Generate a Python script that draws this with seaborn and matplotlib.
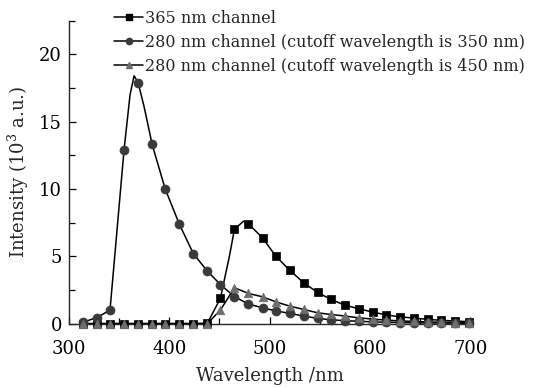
import numpy as np
import pandas as pd
import matplotlib
matplotlib.use("Agg")
import matplotlib.pyplot as plt
from matplotlib.lines import Line2D
from matplotlib.ticker import MultipleLocator
import seaborn as sns

# marker wavelengths (nm)
wl = [314, 328, 341, 355, 369, 383, 396, 410, 424, 438, 451, 465, 479, 493, 506,
      520, 534, 548, 561, 575, 589, 603, 616, 630, 644, 658, 671, 685, 699]

# intensities (10^3 a.u.)
ch365 = [0, 0, 0, 0, 0, 0, 0, 0, 0, 0.02, 1.87, 7.0, 7.4, 6.37, 5.03,
         3.97, 3.03, 2.31, 1.80, 1.37, 1.10, 0.85, 0.65, 0.50, 0.41, 0.31, 0.24, 0.19, 0.14]
ch280_350 = [0.1, 0.45, 1.0, 12.9, 17.9, 13.3, 10.0, 7.4, 5.2, 3.9, 2.9, 2.0, 1.45, 1.17, 0.95,
             0.76, 0.56, 0.39, 0.28, 0.22, 0.17, 0.13, 0.10, 0.08, 0.06, 0.05, 0.04, 0.03, 0.02]
ch280_450 = [0, 0, 0, 0, 0, 0, 0, 0, 0, 0, 1.0, 2.66, 2.24, 1.99, 1.62,
             1.30, 1.05, 0.80, 0.68, 0.56, 0.43, 0.33, 0.26, 0.20, 0.16, 0.12, 0.10, 0.08, 0.06]

# extra points on the smooth curves (around the peaks)
peak365_x, peak365_y = [460, 474], [5.0, 7.6]
peak350_x, peak350_y = [361, 365, 375], [17.0, 18.4, 16.1]

labels = ["365 nm channel",
          "280 nm channel (cutoff wavelength is 350 nm)",
          "280 nm channel (cutoff wavelength is 450 nm)"]
colors = ["#000000", "#3a3a3a", "#6e6e6e"]
markers = ["s", "o", "^"]
sizes = [28, 42, 38]

sns.set_style("ticks")
plt.rcParams["font.family"] = ["DejaVu Serif"]
plt.rcParams["mathtext.fontset"] = "dejavuserif"

fig = plt.figure(figsize=(5.38, 3.88), dpi=100)
ax = fig.add_axes([0.128, 0.166, 0.746, 0.781])

series = [
    (ch365, peak365_x, peak365_y),
    (ch280_350, peak350_x, peak350_y),
    (ch280_450, [], []),
]
handles = []
for (vals, px, py), lab, c, m, sz in zip(series, labels, colors, markers, sizes):
    line_df = pd.DataFrame({"wl": wl + px, "val": vals + py}).sort_values("wl")
    sns.lineplot(data=line_df, x="wl", y="val", ax=ax, color="black", lw=1.1,
                 sort=True, estimator=None, zorder=2)
    sns.scatterplot(x=wl, y=vals, ax=ax, marker=m, color=c, s=sz, edgecolor=c,
                    linewidth=0.5, zorder=3, clip_on=False)
    handles.append(Line2D([], [], color="black", lw=1.1, marker=m, markersize=4.5,
                          markerfacecolor=c, markeredgecolor=c))

ax.set_xlim(300, 700)
ax.set_ylim(0, 22.5)
ax.xaxis.set_major_locator(MultipleLocator(100))
ax.xaxis.set_minor_locator(MultipleLocator(50))
ax.yaxis.set_major_locator(MultipleLocator(5))
ax.yaxis.set_minor_locator(MultipleLocator(2.5))
ax.tick_params(which="both", direction="in", labelsize=13, colors="black")
ax.tick_params(which="major", length=5, width=0.9)
ax.tick_params(which="minor", length=4, width=0.9)
ax.tick_params(axis="x", which="major", pad=12)
ax.tick_params(axis="y", which="major", pad=5)
for s in ["left", "bottom"]:
    ax.spines[s].set_linewidth(1.0)
sns.despine(ax=ax)

ax.set_xlabel("Wavelength /nm", fontsize=13, labelpad=6)
ax.set_ylabel("Intensity (10$^3$ a.u.)", fontsize=13, labelpad=6)

fig.legend(handles, labels, loc="upper left", bbox_to_anchor=(0.195, 1.0),
           frameon=False, fontsize=11.5, handlelength=1.8, handletextpad=0.1,
           labelspacing=0.45, borderaxespad=0.2)

fig.savefig("out.png", dpi=100, facecolor="white")
